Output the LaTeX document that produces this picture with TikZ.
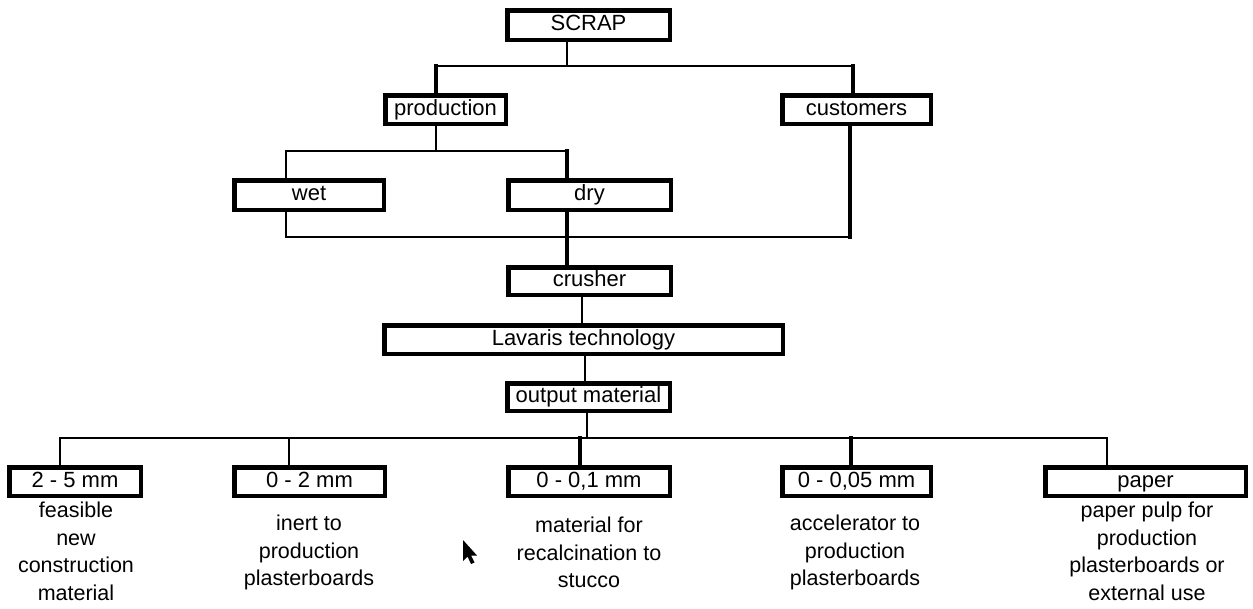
\documentclass[tikz,border=0pt]{standalone}
\usepackage{fontspec}
\setmainfont{Liberation Sans}
\begin{document}
\begin{tikzpicture}[x=1pt,y=-1pt,
  box/.style={draw=black, line width=4.5pt, fill=white, inner sep=0pt,
    text height=16pt, text depth=4.5pt, font=\fontsize{22}{26}\selectfont},
  thinln/.style={line width=2.8pt, line cap=rect},
  thickln/.style={line width=4pt, line cap=rect},
  desc/.style={align=center, inner sep=0pt, font=\fontsize{21.5}{27.5}\selectfont}]
\useasboundingbox (0,0) rectangle (1253,608);
% boxes
\node[box, minimum width=162.5, minimum height=29.5] (scrap) at (588.5,25) {SCRAP};
\node[box, minimum width=120.5, minimum height=28.5] (prod) at (445.5,109.5) {production};
\node[box, minimum width=148.5, minimum height=28.5] (cust) at (856.5,109.5) {customers};
\node[box, minimum width=149.5, minimum height=29.5] (wet) at (309,195) {wet};
\node[box, minimum width=162.5, minimum height=29.5] (dry) at (589.5,195) {dry};
\node[box, minimum width=162.5, minimum height=27.5] (crusher) at (589.5,281) {crusher};
\node[box, minimum width=398.5, minimum height=28.5] (lav) at (583.5,339.5) {Lavaris technology};
\node[box, minimum width=162.5, minimum height=27.5] (out) at (588.5,397) {output material};
\node[box, minimum width=131.5, minimum height=28.5] (s1) at (75,481.5) {2 - 5 mm};
\node[box, minimum width=150.5, minimum height=28.5] (s2) at (309.5,481.5) {0 - 2 mm};
\node[box, minimum width=161.5, minimum height=28.5] (s3) at (589,481.5) {0 - 0,1 mm};
\node[box, minimum width=148.5, minimum height=28.5] (s4) at (856.5,481.5) {0 - 0,05 mm};
\node[box, minimum width=200.5, minimum height=28.5] (s5) at (1145.5,481.5) {paper};
% descriptions
\node[desc] (d1) at (76,551.5) {feasible\\new\\construction\\material};
\node[desc] (d2) at (309,552.5) {inert to\\production\\plasterboards};
\node[desc] (d3) at (589,552.5) {material for\\recalcination to\\stucco};
\node[desc] (d4) at (855,552.5) {accelerator to\\production\\plasterboards};
\node[desc] (d5) at (1147,551.5) {paper pulp for\\production\\plasterboards or\\external use};
% connectors
\coordinate (t1) at (567,66);
\coordinate (t2) at (436,66);
\coordinate (t3) at (853,66);
\draw[thinln] (scrap.south -| t1) -- (t1);
\draw[thinln] (t2) -- (t3);
\draw[thickln] (t2) -- (prod.north -| t2);
\draw[thickln] (t3) -- (cust.north -| t3);
\coordinate (p1) at (436,151);
\coordinate (p2) at (286,151);
\coordinate (p3) at (567,151);
\draw[thinln] (prod.south -| p1) -- (p1);
\draw[thinln] (p2) -- (p3);
\draw[thinln] (p2) -- (wet.north -| p2);
\draw[thickln] (p3) -- (dry.north -| p3);
\coordinate (m1) at (286,237);
\coordinate (m2) at (850,237);
\coordinate (m3) at (567,237);
\draw[thinln] (wet.south -| m1) -- (m1) -- (m2);
\draw[thickln] (cust.south -| m2) -- (m2);
\draw[thickln] (dry.south -| m3) -- (crusher.north -| m3);
\coordinate (c1) at (582,300);
\draw[thinln] (crusher.south -| c1) -- (lav.north -| c1);
\coordinate (l1) at (585,370);
\draw[thinln] (lav.south -| l1) -- (out.north -| l1);
\coordinate (o1) at (587,438);
\coordinate (bL) at (60,438);
\coordinate (bR) at (1107,438);
\coordinate (b2) at (289,438);
\coordinate (b3) at (580,438);
\coordinate (b4) at (851,438);
\draw[thinln] (out.south -| o1) -- (o1);
\draw[thinln] (bL) -- (bR);
\draw[thinln] (bL) -- (s1.north -| bL);
\draw[thinln] (b2) -- (s2.north -| b2);
\draw[thickln] (b3) -- (s3.north -| b3);
\draw[thickln] (b4) -- (s4.north -| b4);
\draw[thinln] (bR) -- (s5.north -| bR);
% mouse pointer
\fill[black] (463,540) -- (463,561) -- (467.5,556.5) -- (471,564) -- (474.5,562.5) -- (471,555.5) -- (477,555.5) -- cycle;
\end{tikzpicture}
\end{document}
